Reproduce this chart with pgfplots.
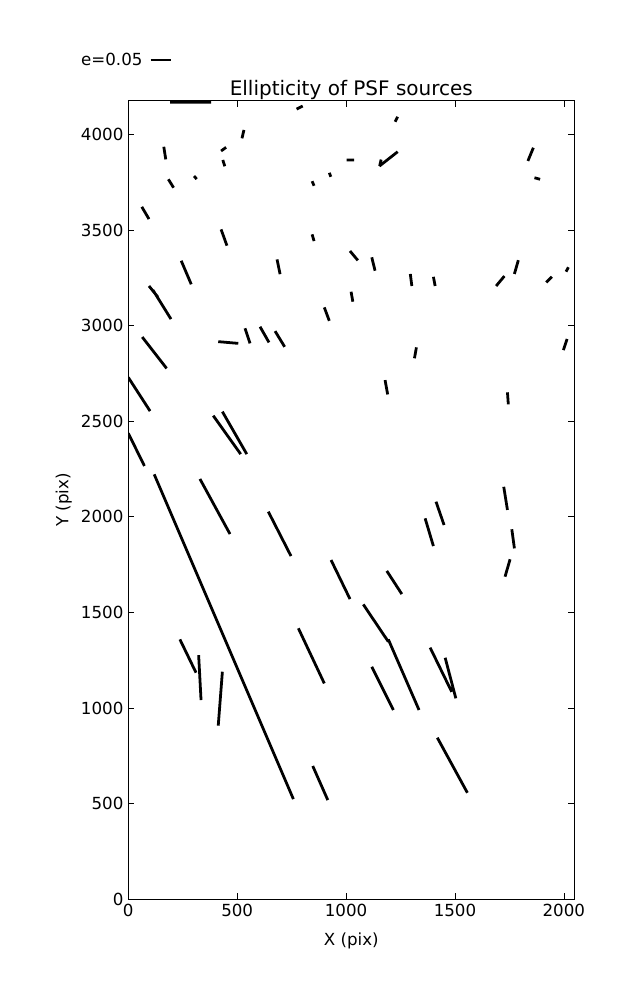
\documentclass[border=0pt]{standalone}
\usepackage{fontspec}
\setmainfont{DejaVu Sans}
\usepackage{pgfplots}
\pgfplotsset{compat=1.18}
\usepackage{pgfplotstable}
\pgfplotstableread{
x y
192 4168
380 4168
nan nan
773 4132
801 4148
nan nan
522 3979
531 4023
nan nan
163 3935
172 3869
nan nan
426 3913
449 3932
nan nan
434 3866
443 3833
nan nan
302 3782
314 3766
nan nan
184 3765
208 3721
nan nan
844 3755
853 3731
nan nan
923 3799
930 3778
nan nan
1003 3866
1037 3866
nan nan
62 3621
95 3557
nan nan
426 3503
453 3418
nan nan
844 3477
853 3442
nan nan
243 3339
289 3216
nan nan
683 3346
697 3269
nan nan
95 3207
136 3149
nan nan
113 3186
196 3034
nan nan
1225 4066
1237 4092
nan nan
1153 3834
1237 3909
nan nan
1154 3834
1161 3868
nan nan
1835 3861
1860 3930
nan nan
1865 3773
1891 3765
nan nan
1018 3390
1054 3341
nan nan
1118 3357
1133 3287
nan nan
1295 3270
1302 3207
nan nan
1401 3255
1409 3207
nan nan
1689 3207
1727 3259
nan nan
1773 3270
1791 3342
nan nan
1919 3226
1945 3255
nan nan
2010 3282
2021 3305
nan nan
1023 3177
1031 3125
nan nan
900 3095
923 3025
nan nan
64 2940
176 2776
nan nan
413 2916
505 2907
nan nan
536 2986
559 2907
nan nan
605 2994
646 2912
nan nan
674 2971
718 2889
nan nan
0 2729
100 2553
nan nan
390 2529
516 2328
nan nan
432 2550
544 2328
nan nan
0 2437
74 2266
nan nan
119 2222
758 524
nan nan
329 2198
467 1910
nan nan
1998 2872
2015 2930
nan nan
1314 2829
1323 2886
nan nan
1179 2715
1191 2640
nan nan
1741 2651
1745 2588
nan nan
1413 2079
1450 1957
nan nan
1363 1992
1401 1847
nan nan
1724 2157
1741 2036
nan nan
1761 1935
1773 1835
nan nan
1730 1687
1753 1778
nan nan
1187 1717
1256 1596
nan nan
931 1774
1018 1570
nan nan
1079 1542
1194 1347
nan nan
1194 1359
1335 990
nan nan
1118 1216
1217 990
nan nan
1386 1316
1485 1085
nan nan
1455 1263
1504 1051
nan nan
643 2027
747 1795
nan nan
781 1417
900 1129
nan nan
237 1359
311 1185
nan nan
323 1277
334 1042
nan nan
413 908
432 1190
nan nan
847 697
916 519
nan nan
1419 845
1557 557
}\segs
\begin{document}
\begin{tikzpicture}
\useasboundingbox (0,0) rectangle (6.37in,10in);
\begin{axis}[
  at={(1.283in,1.007in)}, anchor=south west,
  scale only axis, width=4.46in, height=7.986in,
  xmin=0, xmax=2048, ymin=0, ymax=4176,
  xtick={0,500,1000,1500,2000},
  ytick={0,500,1000,1500,2000,2500,3000,3500,4000},
  minor tick num=0,
  scaled ticks=false,
  /pgf/number format/assume math mode=true,
  /pgf/number format/1000 sep={},
  tick label style={font=\fontsize{12bp}{14bp}\selectfont},
  major tick length=0.06in,
  tick style={line width=0.5bp, black},
  axis line style={line width=1bp},
  title={Ellipticity of PSF sources},
  title style={font=\fontsize{14.4bp}{17bp}\selectfont, at={(axis description cs:0.5,0.9962)}, anchor=base},
  xlabel={X (pix)},
  xlabel style={font=\fontsize{12bp}{14bp}\selectfont, at={(axis description cs:0.5,-0.0576)}, anchor=base},
  ylabel={Y (pix)},
  ylabel style={font=\fontsize{12bp}{14bp}\selectfont, at={(axis description cs:-0.1345,0.5)}, anchor=base},
  unbounded coords=jump,
  legend plot pos=right,
  legend image code/.code={\draw[line width=2bp] (0in,0in) -- (0.2in,0in);},
  legend style={at={(axis description cs:-0.1125,1.051)}, anchor=west, draw=none, fill=none,
    font=\fontsize{12bp}{14bp}\selectfont, inner sep=0pt, /tikz/column sep=0.04in},
]
\addplot[black, line width=2bp, line cap=butt, mark=none] table[x=x,y=y] {\segs};
\addlegendentry{e=0.05}
\end{axis}
\end{tikzpicture}
\end{document}
